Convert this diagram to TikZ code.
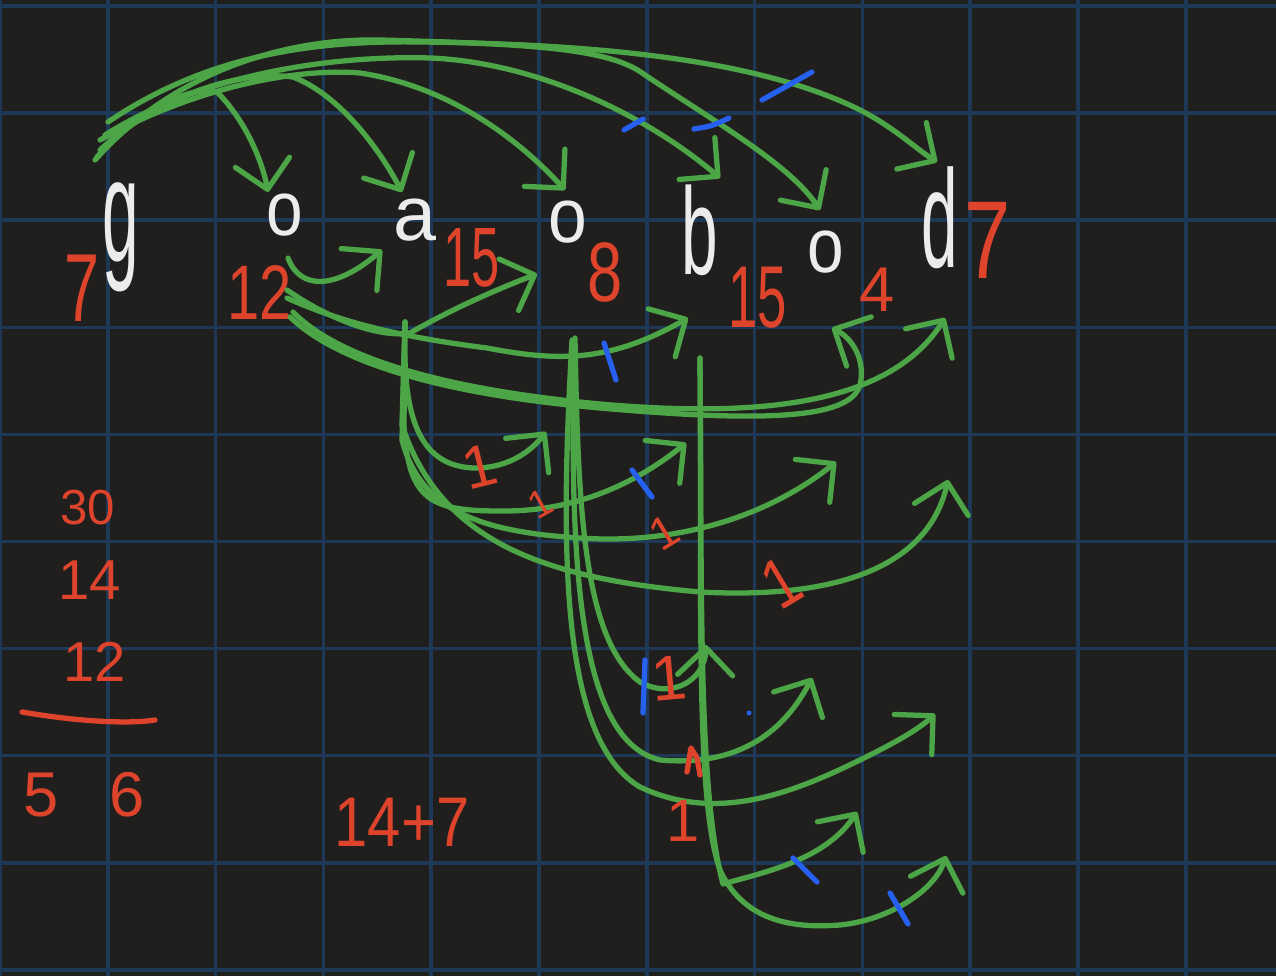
\documentclass[tikz,border=0pt]{standalone}
\usepackage{fontspec}
\setsansfont{Liberation Sans}
\usetikzlibrary{arrows.meta}

\definecolor{board}{RGB}{32,31,30}
\definecolor{gridblue}{RGB}{29,57,87}
\definecolor{penGreen}{RGB}{76,166,72}
\definecolor{penRed}{RGB}{222,68,44}
\definecolor{penBlue}{RGB}{38,96,238}
\definecolor{penWhite}{RGB}{236,236,236}

\newcommand{\slim}[2][0.75]{\scalebox{#1}[1]{#2}}
\newcommand{\tall}[2]{\scalebox{0.85}[#1]{#2}}

\begin{document}
\begin{tikzpicture}[x=0.02cm, y=-0.02cm, line cap=round, line join=round,
    letter/.style={text=penWhite, inner sep=0pt, font=\sffamily\fontsize{44}{44}\selectfont},
    num/.style={text=penRed, inner sep=0pt, font=\sffamily\fontsize{#1}{#1}\selectfont},
    link/.style={draw=penGreen, line width=3pt, -{Straight Barb[length=5.5mm,width=11mm,round]}},
    rmark/.style={draw=penRed, line width=3pt},
    bmark/.style={draw=penBlue, line width=3pt}]

    % board and grid
    \fill[board] (0,0) rectangle (1276,976);
    \useasboundingbox (0,0) rectangle (1276,976);
    \foreach \i in {0,...,11}
        \draw[gridblue, line width=2pt] (107.8*\i,0) -- (107.8*\i,976);
    \foreach \j in {0,...,9}
        \draw[gridblue, line width=2pt] (0,6+107.1*\j) -- (1276,6+107.1*\j);

    % nodes
    \node[letter] (g) at (121,237) {\tall{1.9}{g}};
    \node[letter] (o1) at (285,215) {\slim[0.85]{o}};
    \node[letter] (a) at (415,220) {a};
    \node[letter] (o2) at (568,222) {\slim[0.9]{o}};
    \node[letter] (b) at (700,230) {\tall{1.6}{b}};
    \node[letter] (o3) at (826,252) {\slim[0.85]{o}};
    \node[letter] (d) at (940,218) {\tall{1.8}{d}};

    % weights
    \node[num=55] (wg) at (82,288) {\slim[0.65]{7}};
    \node[num=44] (wo1) at (260,293) {\slim{12}};
    \node[num=48] (wa) at (472,258) {\slim[0.6]{15}};
    \node[num=48] (wo2) at (605,272) {\slim{8}};
    \node[num=50] (wb) at (758,298) {\slim[0.6]{15}};
    \node[num=36] (wo3) at (877,290) {4};
    \node[num=63] (wd) at (988,240) {\slim{7}};

    % arrow ends
    \coordinate (gO1) at (268,192);
    \coordinate (gA) at (402,192);
    \coordinate (gO2) at (565,190);
    \coordinate (gB) at (720,178);
    \coordinate (gO3) at (820,210);
    \coordinate (gD) at (937,162);
    \coordinate (oA) at (382,250);
    \coordinate (oO2) at (537,274);
    \coordinate (oB) at (688,318);
    \coordinate (oO3) at (832,328);
    \coordinate (oD) at (945,318);
    \coordinate (aO2) at (546,432);
    \coordinate (aB) at (686,443);
    \coordinate (aO3) at (836,462);
    \coordinate (aD) at (948,480);
    \coordinate (pB) at (706,645);
    \coordinate (pO3) at (812,678);
    \coordinate (pD) at (935,714);
    \coordinate (bO3) at (857,812);
    \coordinate (bD) at (946,856);

    % out of g
    \draw[link] ([shift={(-24,-80)}]g.center) .. controls (140,110) and (190,85) .. (217,92)
        .. controls (245,120) and (262,160) .. (gO1);
    \draw[link] ([shift={(-21,-87)}]g.center) .. controls (160,95) and (240,70) .. (293,77)
        .. controls (340,95) and (380,150) .. (gA);
    \draw[link] ([shift={(-21,-97)}]g.center) .. controls (200,85) and (300,68) .. (360,73)
        .. controls (440,85) and (510,130) .. (gO2);
    \draw[link] ([shift={(-16,-102)}]g.center) .. controls (200,75) and (330,55) .. (430,58)
        .. controls (530,62) and (640,110) .. (gB);
    \draw[link] ([shift={(-26,-77)}]g.center) .. controls (170,75) and (280,38) .. (380,40)
        .. controls (530,44) and (610,48) .. (645,75) .. controls (720,125) and (790,165) .. (gO3);
    \draw[link] ([shift={(-13,-115)}]g.center) .. controls (200,60) and (300,40) .. (420,42)
        .. controls (600,44) and (760,60) .. (860,110) .. controls (895,128) and (915,148) .. (gD);

    % out of o1
    \draw[link] ([shift={(3,43)}]o1.center) .. controls (300,290) and (335,290) .. (oA);
    \draw[link] ([shift={(2,75)}]o1.center) .. controls (330,320) and (380,338) .. (410,333)
        .. controls (450,310) and (495,290) .. (oO2);
    \draw[link] ([shift={(2,83)}]o1.center) .. controls (340,322) and (400,337) .. (487,348)
        .. controls (560,362) and (610,362) .. (oB);
    \draw[link] ([shift={(5,102)}]o1.center) .. controls (340,365) and (450,395) .. (600,408)
        .. controls (760,422) and (850,420) .. (860,385) .. controls (866,360) and (852,338) .. (oO3);
    \draw[link] ([shift={(8,97)}]o1.center) .. controls (340,360) and (450,390) .. (600,404)
        .. controls (760,418) and (890,405) .. (oD);

    % out of a
    \draw[link] ([shift={(-10,102)}]a.center) .. controls (403,400) and (410,470) .. (480,468)
        .. controls (510,466) and (530,452) .. (aO2);
    \draw[link] ([shift={(-10,102)}]a.center) -- (404,425) .. controls (408,500) and (430,511) .. (500,511)
        .. controls (580,512) and (640,480) .. (aB);
    \draw[link] ([shift={(-10,102)}]a.center) -- (402,440) .. controls (420,510) and (480,532) .. (580,538)
        .. controls (680,545) and (770,515) .. (aO3);
    \draw[link] ([shift={(-10,102)}]a.center) -- (402,425) .. controls (440,540) and (540,578) .. (700,592)
        .. controls (850,600) and (930,560) .. (aD);

    % out of o2
    \draw[link] ([shift={(7,116)}]o2.center) .. controls (578,500) and (582,640) .. (640,682)
        .. controls (672,700) and (705,680) .. (pB);
    \draw[link] ([shift={(6,118)}]o2.center) .. controls (570,550) and (575,740) .. (660,760)
        .. controls (750,768) and (790,720) .. (pO3);
    \draw[link] ([shift={(4,118)}]o2.center) .. controls (560,550) and (560,740) .. (640,787)
        .. controls (720,825) and (800,790) .. (870,755) .. controls (900,740) and (920,728) .. (pD);

    % out of b
    \draw[link] ([shift={(0,128)}]b.center) .. controls (702,600) and (698,790) .. (723,884)
        .. controls (765,872) and (825,860) .. (bO3);
    \draw[link] ([shift={(0,128)}]b.center) .. controls (702,600) and (695,800) .. (720,870)
        .. controls (745,925) and (800,928) .. (840,925) .. controls (890,920) and (935,890) .. (bD);

    % blue strokes
    \draw[bmark] (624,130) -- (643,119);
    \draw[bmark] (694,129) .. controls (712,126) .. (729,118);
    \draw[bmark] (762,100) -- (812,72);
    \draw[bmark] (604,343) -- (616,380);
    \draw[bmark] (632,470) -- (652,497);
    \draw[bmark] (645,660) -- (643,713);
    \draw[bmark] (793,858) -- (817,882);
    \draw[bmark] (890,893) -- (908,924);
    \fill[penBlue] (749,713) circle (2.5);

    % red ones on the lower links
    \node[num=34, rotate=14] (r1) at (480,467) {1};
    \node[num=22, rotate=29] (r2) at (540,504) {1};
    \node[num=26, rotate=31] (r3) at (664,532) {1};
    \node[num=40, rotate=31] (r4) at (781,583) {\slim[0.8]{1}};
    \node[num=36, rotate=5] (r5) at (669,678) {1};
    \node[num=34] (r6) at (683,821) {1};
    \draw[rmark] (687,772) -- (691,748) -- (697,758) -- (700,775);

    % sum on the left
    \node[num=28] (s30) at (88,508) {30};
    \node[num=32] (s14) at (90,580) {14};
    \node[num=32] (s12) at (95,662) {12};
    \draw[rmark] (22,712) .. controls (80,722) and (130,724) .. (155,720);
    \node[num=36] (s56) at (84,795) {5\hspace{0.8em}6};
    \node[num=40] (calc) at (402,822) {\slim[0.85]{14+7}};
\end{tikzpicture}
\end{document}
